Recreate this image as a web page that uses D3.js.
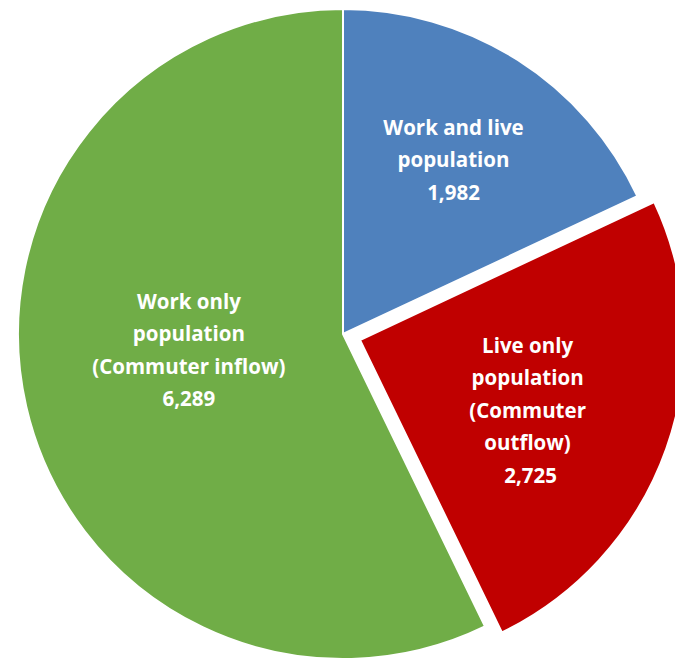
<!DOCTYPE html>
<html>
<head>
<meta charset="utf-8">
<script src="https://cdn.jsdelivr.net/npm/d3@7"></script>
<style>
  body { margin: 0; background: white; }
  svg { display: block; }
</style>
</head>
<body>
<div id="chart"></div>
<script>
// slices, clockwise from 12 o'clock
let categories = ['Work and live population', 'Live only population (Commuter outflow)', 'Work only population (Commuter inflow)'];
let values = [1982, 2725, 6289];
let labelLines = [
  ['Work and live', 'population', '1,982'],
  ['Live only', 'population', '(Commuter', 'outflow)', '2,725'],
  ['Work only', 'population', '(Commuter inflow)', '6,289']
];
let colors = ['#4f81bd', '#c00000', '#70ad47'];

let width = 675,
  height = 659,
  cx = 343,
  cy = 334,
  radius = 325;

// how far each slice is pulled out, and where its label sits
let explode = [0, 18, 0];
let labelRadius = [206, 182, 155];
let labelTurn = [0, 0.06, 0.12];

let svg = d3.select('#chart')
  .append('svg')
    .attr('width', width)
    .attr('height', height);

let g = svg.append('g')
  .attr('transform', 'translate(' + cx + ',' + cy + ')');

let pie = d3.pie()
  .sort(null)
  .value(d => d)
  .startAngle(0)
  .endAngle(2 * Math.PI);

let arcs = pie(values);

let arc = d3.arc()
  .innerRadius(0)
  .outerRadius(radius);

let slice = g.selectAll('g.slice')
  .data(arcs)
  .enter()
  .append('g')
    .attr('class', 'slice')
    .attr('transform', function(d, i) {
      let a = (d.startAngle + d.endAngle) / 2;
      return 'translate(' + (Math.sin(a) * explode[i]) + ',' + (-Math.cos(a) * explode[i]) + ')';
    });

slice.append('path')
  .attr('d', arc)
  .attr('fill', (d, i) => colors[i])
  .attr('stroke', 'white')
  .attr('stroke-width', 2)
  .attr('stroke-linejoin', 'round');

// labels
let lineHeight = 32.5;
slice.each(function(d, i) {
  let a = (d.startAngle + d.endAngle) / 2 + labelTurn[i];
  let x = Math.sin(a) * labelRadius[i],
    y = -Math.cos(a) * labelRadius[i];
  let lines = labelLines[i];
  let text = d3.select(this).append('text')
    .attr('text-anchor', 'middle')
    .attr('fill', 'white')
    .style('font-family', '"Open Sans", sans-serif')
    .style('font-weight', 'bold')
    .style('font-size', '20.5px');
  lines.forEach(function(line, j) {
    text.append('tspan')
      .attr('x', x + (i == 1 && j == lines.length - 1 ? 3 : 0))
      .attr('y', y + (j - (lines.length - 1) / 2) * lineHeight + 7)
      .text(line);
  });
});
</script>
</body>
</html>
